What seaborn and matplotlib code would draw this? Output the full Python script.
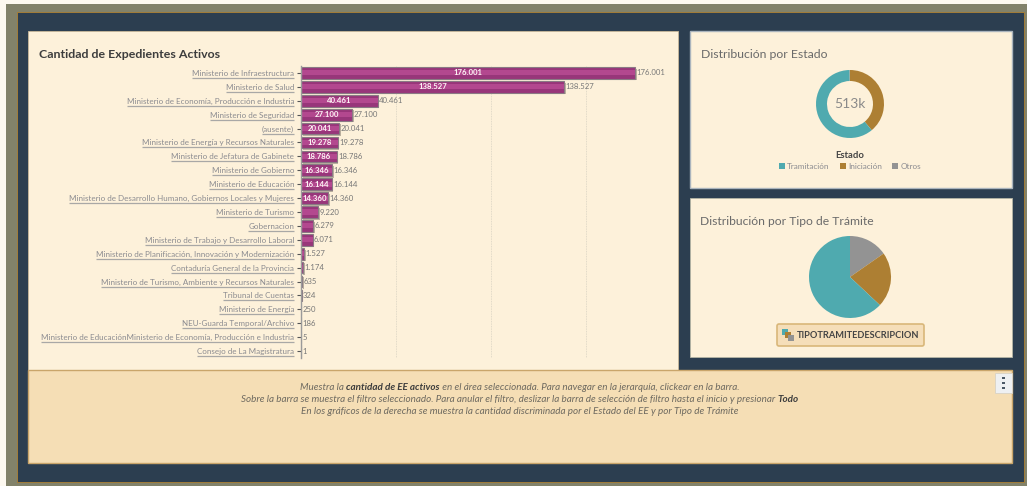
"""
Tablero de expedientes activos: barras por ministerio, dona por estado, torta por tipo de tramite.
"""

import matplotlib
matplotlib.use("Agg")   # headless
import matplotlib.pyplot as plt
import matplotlib.patheffects as pe
from matplotlib.patches import Rectangle, FancyBboxPatch
import seaborn as sns

AREAS = [
    "Ministerio de Infraestructura",
    "Ministerio de Salud",
    "Ministerio de Economía, Producción e Industria",
    "Ministerio de Seguridad",
    "(ausente)",
    "Ministerio de Energía y Recursos Naturales",
    "Ministerio de Jefatura de Gabinete",
    "Ministerio de Gobierno",
    "Ministerio de Educación",
    "Ministerio de Desarrollo Humano, Gobiernos Locales y Mujeres",
    "Ministerio de Turismo",
    "Gobernacion",
    "Ministerio de Trabajo y Desarrollo Laboral",
    "Ministerio de Planificación, Innovación y Modernización",
    "Contaduría General de la Provincia",
    "Ministerio de Turismo, Ambiente y Recursos Naturales",
    "Tribunal de Cuentas",
    "Ministerio de Energía",
    "NEU-Guarda Temporal/Archivo",
    "Ministerio de EducaciónMinisterio de Economía, Producción e Industria",
    "Consejo de La Magistratura",
]
EXPEDIENTES = [176001, 138527, 40461, 27100, 20041, 19278, 18786, 16346, 16144, 14360,
               9220, 6279, 6071, 1527, 1174, 635, 324, 250, 186, 5, 1]

ESTADOS = ["Iniciación", "Tramitación", "Otros"]
ESTADO_VALORES = [200, 312, 1]
TIPO_VALORES = [15.3, 21.7, 63.0]  # %, gris / ocre / turquesa
GRID_TICKS = [50000, 100000, 150000]

W, H = 1027, 486
FONT = "Lato"
WHITE = "#fdf9f0"
OLIVE = "#82826a"
ORANGE = "#a07c3a"
NAVY = "#2c3e50"
PANEL = "#fdf1da"
FOOTER = "#f5deb5"
TEAL = "#4faaaf"
TAN = "#ad7f33"
GREY = "#939393"
MAGENTA = "#98367a"
MAGENTA_LIGHT = "#b3488f"

sns.set_theme(style="white")
plt.rcParams["font.family"] = [FONT, "DejaVu Sans"]

fig = plt.figure(figsize=(W / 100, H / 100), dpi=100, facecolor=WHITE)


def px_axes(x0, y0, x1, y1, **kw):
    return fig.add_axes([x0 / W, 1 - y1 / H, (x1 - x0) / W, (y1 - y0) / H], **kw)


# ── Fondo y paneles ─────────────────────────────────────────────────────────
bg = px_axes(0, 0, W, H)
bg.set_xlim(0, W)
bg.set_ylim(H, 0)
bg.axis("off")


def box(x0, y0, x1, y1, color, **kw):
    bg.add_patch(Rectangle((x0, y0), x1 - x0, y1 - y0, facecolor=color, linewidth=kw.pop("lw", 0), **kw))


box(5.5, 4, W, H, OLIVE)
box(16.5, 12.5, 1025, 483, ORANGE)
box(17.5, 13.5, 1024, 482, NAVY)
box(28, 31, 678, 370, PANEL, edgecolor="#c9b99a", lw=0.6)
box(689.5, 31, 1011.5, 188, PANEL, edgecolor="#aab4bd", lw=1)
box(689.5, 198, 1011.5, 357, PANEL, edgecolor="#b5b5a5", lw=0.6)
box(28, 370, 1012, 463, FOOTER, edgecolor="#c9a56a", lw=1)
box(995, 373, 1012, 393, "#eef0f2", edgecolor="#d8d2c4", lw=0.6)
for yy in (378, 383, 388):
    box(1001.5, yy - 1, 1004.5, yy + 1, "#4a5866")

bg.text(39, 54, "Cantidad de Expedientes Activos", fontsize=8.9, fontweight="bold",
        color="#3d3d3d", va="center")
bg.text(701, 55, "Distribución por Estado", fontsize=8.8, color="#6a6a6a", va="center")
bg.text(700, 221, "Distribución por Tipo de Trámite", fontsize=8.7, color="#6a6a6a", va="center")

# ── Barras ──────────────────────────────────────────────────────────────────
ax = px_axes(301, 66, 664, 358, facecolor="none")
sns.barplot(x=EXPEDIENTES, y=AREAS, orient="h", color=MAGENTA, saturation=1, width=0.84,
            edgecolor="#8a7a84", linewidth=0.8, ax=ax)
bars = ax.containers[0]
for bar in bars:
    bar.set_path_effects([pe.SimplePatchShadow(offset=(1.2, -1.2), shadow_rgbFace="#8f8678", alpha=0.6),
                          pe.Normal()])
# banda clara central de cada barra
sns.barplot(x=EXPEDIENTES, y=AREAS, orient="h", color=MAGENTA_LIGHT, saturation=1, width=0.36,
            linewidth=0, ax=ax)

ax.set_xlim(0, 176001 * (664 - 301) / 334)
ax.set_ylim(20.5, -0.5)
ax.set_xlabel("")
ax.set_ylabel("")
ax.set_xticks(GRID_TICKS)
ax.tick_params(axis="x", length=0, labelbottom=False)
ax.tick_params(axis="y", length=2.9, width=0.8, color="#555555", labelsize=5.8,
               labelcolor="#8b8b90", pad=2, left=True)
ax.xaxis.grid(True, color="#d8d2c2", linewidth=0.6, linestyle=(0, (1, 1)))
ax.set_axisbelow(True)
sns.despine(ax=ax, top=True, right=True, bottom=True)
ax.spines["left"].set_color("#9a9a9a")
ax.spines["left"].set_linewidth(1)


def fmt(v):
    return f"{v:,}".replace(",", ".")


ax.bar_label(bars, labels=[fmt(v) for v in EXPEDIENTES], padding=1, fontsize=5.6, color="#777777")
ax.bar_label(bars, labels=[fmt(v) if v >= 14000 else "" for v in EXPEDIENTES],
             label_type="center", fontsize=5.6, fontweight="bold", color="#fdf5f5")

# ── Dona ────────────────────────────────────────────────────────────────────
ax_d = px_axes(850 - 36, 104 - 36, 850 + 36, 104 + 36)
wedges_d, _ = ax_d.pie(ESTADO_VALORES, colors=[TAN, TEAL, GREY], startangle=90, counterclock=False,
                       radius=1, wedgeprops={"width": 11 / 34, "linewidth": 0})
ax_d.set_xlim(-36 / 34, 36 / 34)
ax_d.set_ylim(-36 / 34, 36 / 34)
ax_d.text(0, 0, "513k", ha="center", va="center", fontsize=10, color="#8a8a8a")
leg = ax_d.legend([wedges_d[1], wedges_d[0], wedges_d[2]], ["Tramitación", "Iniciación", "Otros"],
                  title="Estado", ncol=3, loc="upper center", bbox_to_anchor=(0.5, -0.10),
                  frameon=False, fontsize=5.9, labelcolor="#8b8b90", handlelength=0.7,
                  handleheight=0.7, handletextpad=0.25, columnspacing=1.3, borderpad=0,
                  labelspacing=0.2, title_fontproperties={"size": 6.8, "weight": "bold"})
leg.get_title().set_color("#444444")
leg._legend_box.sep = 2

# ── Torta ───────────────────────────────────────────────────────────────────
ax_p = px_axes(850 - 42, 277 - 42, 850 + 42, 277 + 42)
ax_p.pie(TIPO_VALORES, colors=[GREY, TAN, TEAL], startangle=90, counterclock=False, radius=1,
         wedgeprops={"linewidth": 0})
ax_p.set_xlim(-42 / 41, 42 / 41)
ax_p.set_ylim(-42 / 41, 42 / 41)

bg.add_patch(FancyBboxPatch((779, 326), 143, 18, boxstyle="round,pad=2,rounding_size=2",
                            facecolor="#f5deb9", edgecolor="#d9b779", linewidth=1.2))
for dx, col in ((0, TEAL), (3, TAN), (6, GREY)):
    box(782 + dx, 329 + dx, 788 + dx, 335 + dx, col)
bg.text(797, 335, "TIPOTRAMITEDESCRIPCION", fontsize=6.65, fontweight="bold", color="#444444", va="center")

# ── Texto del pie ───────────────────────────────────────────────────────────
FOOT_LINES = [
    (387, [("Muestra la ", False), ("cantidad de EE activos", True),
           (" en el área seleccionada. Para navegar en la jerarquía, clickear en la barra.", False)]),
    (399, [("Sobre la barra se muestra el filtro seleccionado. Para anular el filtro, deslizar la barra "
            "de selección de filtro hasta el inicio y presionar ", False), ("Todo", True)]),
    (411, [("En los gráficos de la derecha se muestra la cantidad discriminada por el Estado del EE y "
            "por Tipo de Trámite", False)]),
]

fig.canvas.draw()
renderer = fig.canvas.get_renderer()
for y, parts in FOOT_LINES:
    items = [bg.text(0, y, s, fontsize=7.14, style="italic", va="center", fontweight="bold" if b else "normal",
                     color="#3d3d3d" if b else "#6e6a60") for s, b in parts]
    widths = []
    for s, t in zip(parts, items):
        # el espacio final no cuenta en el extent: se mide con un caracter de relleno
        t.set_text(s[0] + "|")
        w_bar = t.get_window_extent(renderer).width
        t.set_text("|")
        w_pipe = t.get_window_extent(renderer).width
        t.set_text(s[0])
        widths.append(w_bar - w_pipe + 0.3)
    x = 520 - sum(widths) / 2
    for t, w in zip(items, widths):
        t.set_x(x)
        x += w

# subrayado de las etiquetas
for lab in ax.get_yticklabels():
    e = lab.get_window_extent(renderer)
    y_px = H - e.y0 + 1
    bg.plot([e.x0, e.x1], [y_px, y_px], color="#a9a8a6", linewidth=0.9, solid_capstyle="butt")

fig.savefig("out.png", dpi=100, facecolor=fig.get_facecolor())
plt.close(fig)
